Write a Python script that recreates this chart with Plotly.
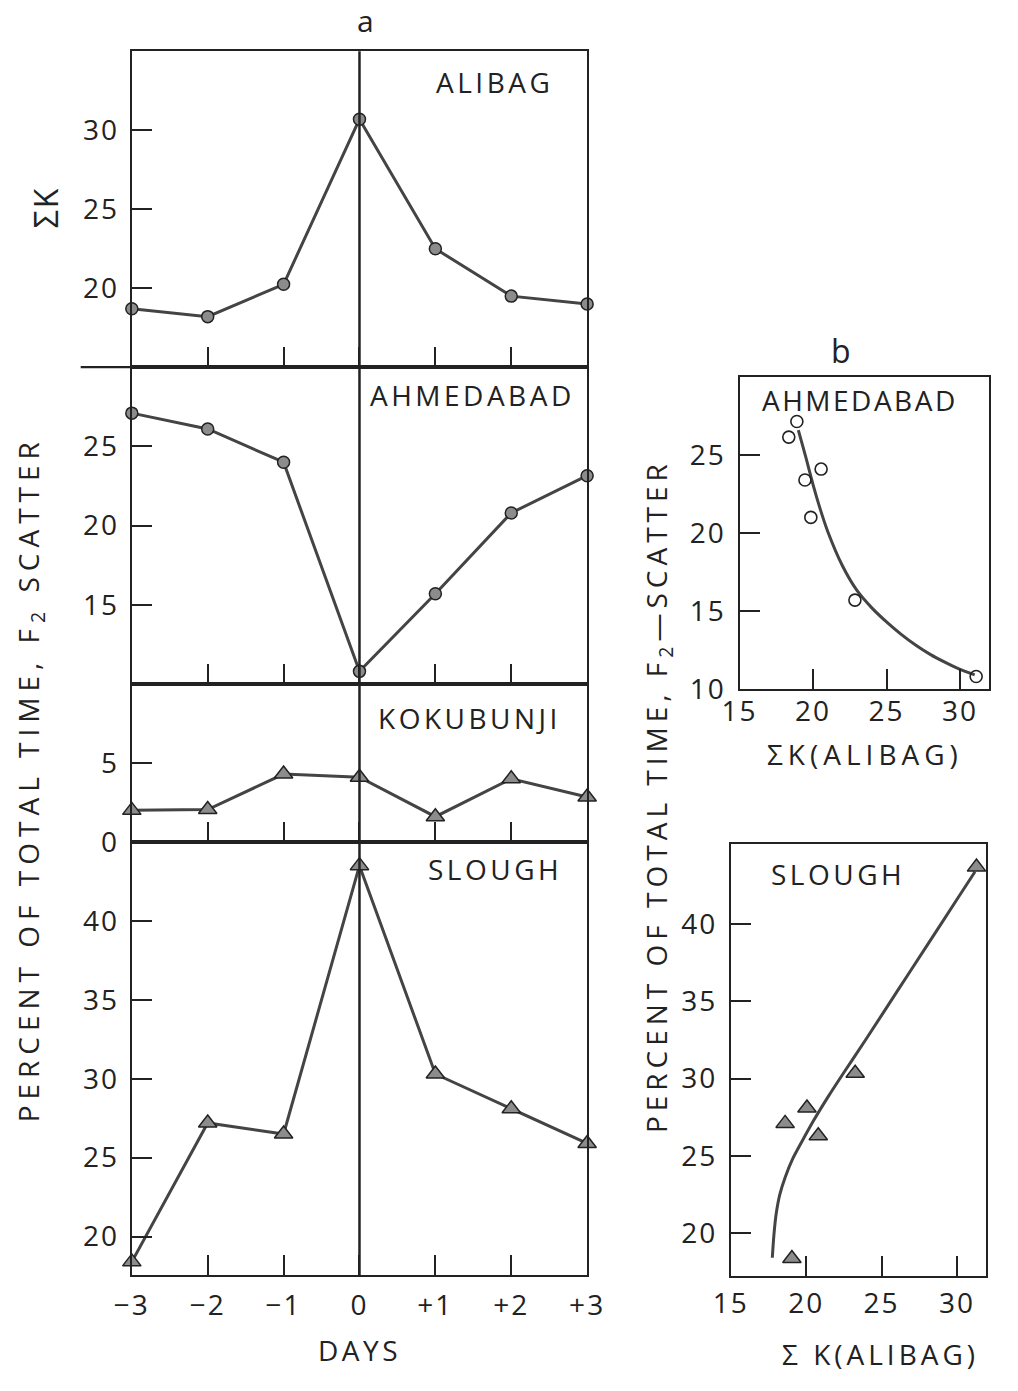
import plotly.graph_objects as go

W, H = 1018, 1391

# ---- panel a: daily values around day 0 ----
days = [-3, -2, -1, 0, 1, 2, 3]
day_labels = ["−3", "−2", "−1", "0", "+1", "+2", "+3"]
alibag_sk = [18.7, 18.2, 20.25, 30.7, 22.5, 19.5, 19.0]
ahmedabad_f2 = [27.1, 26.1, 24.0, 10.8, 15.7, 20.8, 23.15]
kokubunji_f2 = [2.0, 2.05, 4.3, 4.1, 1.6, 4.0, 2.85]
slough_f2 = [18.4, 27.2, 26.5, 43.5, 30.3, 28.1, 25.9]

# ---- panel b: F2 scatter against Alibag sum K ----
b_ahm_sk = [18.35, 18.9, 19.45, 19.85, 20.55, 22.85, 31.1]
b_ahm_f2 = [26.15, 27.15, 23.4, 21.0, 24.1, 15.7, 10.8]
b_ahm_fit_sk = [19.0, 19.5, 20.0, 20.5, 21.0, 22.0, 23.0, 24.0, 25.0, 26.0, 27.0, 28.0, 29.0, 30.0, 31.0]
b_ahm_fit_f2 = [26.6, 24.9, 23.1, 21.5, 20.1, 17.9, 16.3, 15.2, 14.3, 13.5, 12.8, 12.2, 11.7, 11.25, 10.9]

b_slo_sk = [18.6, 20.05, 20.8, 23.25, 19.05, 31.3]
b_slo_f2 = [27.1, 28.1, 26.3, 30.35, 18.35, 43.7]
b_slo_fit_sk = [17.75, 17.85, 18.0, 18.25, 18.6, 19.1, 19.7, 20.5, 21.5, 22.5, 24.0, 26.0, 28.0, 30.0, 31.2]
b_slo_fit_f2 = [18.4, 19.8, 21.2, 22.5, 23.6, 24.8, 25.9, 27.3, 28.9, 30.4, 32.6, 35.6, 38.6, 41.6, 43.4]

INK = "#222222"
LINE = "#444444"
FILL = "#8c8c8c"
FONT = "Open Sans"


def px(x):
    return x / W


def py(y):
    return 1 - y / H


def spaced(s, ls):
    return f'<span style="letter-spacing:{ls}px">{s}</span>'


def tick_text(vals):
    return [spaced(v, 2) for v in vals]


fig = go.Figure()

# left column: four stacked panels sharing the day axis
left_dom = [px(118), px(590)]
panels = [
    # (suffix, top px, bottom px, range, tickvals, values, marker symbol)
    ("", 52, 372, [15, 35], [20, 25, 30], alibag_sk, "circle"),
    ("2", 372, 693, [10, 30], [15, 20, 25], ahmedabad_f2, "circle"),
    ("3", 693, 853, [0, 10], [0, 5], kokubunji_f2, "triangle-up"),
    ("4", 853, 1292, [17.55, 45], [20, 25, 30, 35, 40], slough_f2, "triangle-up"),
]

axis_common = dict(
    showline=True, linecolor=INK, linewidth=2.2, mirror=True,
    showgrid=False, zeroline=False, ticks="inside", ticklen=20,
    tickwidth=2, tickcolor=INK,
    tickfont=dict(family=FONT, size=28, color=INK),
)

for suf, top, bot, rng, tv, vals, sym in panels:
    xa = "xaxis" + suf
    ya = "yaxis" + suf
    is_bottom = suf == "4"
    fig.update_layout({
        xa: dict(axis_common, domain=left_dom, range=[-3, 3], anchor="y" + suf,
                 tickvals=days, ticktext=tick_text(day_labels), showticklabels=is_bottom,
                 ticklabelstandoff=4,
                 **({} if suf == "" else {"matches": "x"})),
        ya: dict(axis_common, domain=[py(bot), py(top)], range=rng, anchor="x" + suf,
                 tickvals=tv, ticktext=tick_text([str(v) for v in tv]),
                 ticklabelstandoff=5),
    })
    if sym == "circle":
        mk = dict(symbol="circle", size=12, color=FILL, line=dict(color=INK, width=1.5))
    else:
        mk = dict(symbol="triangle-up", size=16, color=FILL, line=dict(color=INK, width=1.5))
    fig.add_trace(go.Scatter(
        x=days, y=vals, xaxis="x" + suf, yaxis="y" + suf, mode="lines+markers",
        line=dict(color=LINE, width=3), marker=mk, cliponaxis=False, showlegend=False,
    ))

# right column: two scatter plots with fitted curves
right = [
    ("5", [748, 1007], [382, 698], [15, 32], [10, 30], [15, 20, 25, 30], [10, 15, 20, 25],
     b_ahm_sk, b_ahm_f2, b_ahm_fit_sk, b_ahm_fit_f2, -4,
     dict(symbol="circle-open", size=12, color=INK, line=dict(color=INK, width=1.6))),
    ("6", [739, 1003], [855, 1293], [15, 31.9], [17.2, 45.2], [15, 20, 25, 30], [20, 25, 30, 35, 40],
     b_slo_sk, b_slo_f2, b_slo_fit_sk, b_slo_fit_f2, 1,
     dict(symbol="triangle-up", size=16, color=FILL, line=dict(color=INK, width=1.5))),
]
for suf, xd, yd, xr, yr, xtv, ytv, sx, sy, fx, fy, xstand, mk in right:
    fig.update_layout({
        "xaxis" + suf: dict(axis_common, domain=[px(xd[0]), px(xd[1])], range=xr,
                            anchor="y" + suf, tickvals=xtv, ticktext=tick_text([str(v) for v in xtv]),
                            ticklabelstandoff=xstand),
        "yaxis" + suf: dict(axis_common, domain=[py(yd[1]), py(yd[0])], range=yr,
                            anchor="x" + suf, tickvals=ytv, ticktext=tick_text([str(v) for v in ytv]),
                            ticklabelstandoff=6),
    })
    fig.add_trace(go.Scatter(
        x=fx, y=fy, xaxis="x" + suf, yaxis="y" + suf, mode="lines",
        line=dict(color=LINE, width=3, shape="spline", smoothing=0.6),
        showlegend=False, cliponaxis=False,
    ))
    fig.add_trace(go.Scatter(
        x=sx, y=sy, xaxis="x" + suf, yaxis="y" + suf, mode="markers",
        marker=mk, showlegend=False, cliponaxis=False,
    ))

shapes = [
    # day-0 reference line through all left panels
    dict(type="line", xref="x4", yref="paper", x0=0, x1=0, y0=py(1292), y1=py(52),
         line=dict(color=INK, width=2.5)),
    # baseline of the top panel runs out past the axis
    dict(type="line", xref="paper", yref="paper", x0=px(65), x1=px(118), y0=py(372), y1=py(372),
         line=dict(color=INK, width=2.2)),
]


def ann(text, x, y, size=28, angle=0, ls=3.5):
    return dict(text=spaced(text, ls) if ls else text, x=px(x), y=py(y),
                xref="paper", yref="paper", showarrow=False, textangle=angle,
                xanchor="center", yanchor="middle",
                font=dict(family=FONT, size=size, color=INK))


annotations = [
    ann("a", 360, 21, size=30, ls=0),
    ann("b", 853, 355, size=32, ls=0),
    ann("ALIBAG", 494, 83),
    ann("AHMEDABAD", 471, 400),
    ann("KOKUBUNJI", 468, 727),
    ann("SLOUGH", 494, 880),
    ann("AHMEDABAD", 873, 405, ls=2.5),
    ann("SLOUGH", 850, 885),
    ann("ΣK", 28, 210, size=32, angle=-90, ls=2),
    ann("PERCENT OF TOTAL TIME, F<sub>2</sub> SCATTER", 12, 790, angle=-90, ls=6),
    ann("PERCENT OF TOTAL TIME, F<sub>2</sub>—SCATTER", 663, 807, angle=-90, ls=5),
    ann("DAYS", 354, 1368),
    ann("ΣK(ALIBAG)", 878, 764, ls=5),
    ann("Σ K(ALIBAG)", 894, 1372, ls=4),
]

fig.update_layout(
    width=W, height=H,
    margin=dict(l=0, r=0, t=0, b=0),
    paper_bgcolor="white", plot_bgcolor="white",
    showlegend=False,
    shapes=shapes, annotations=annotations,
)

fig.write_html("out.html")
